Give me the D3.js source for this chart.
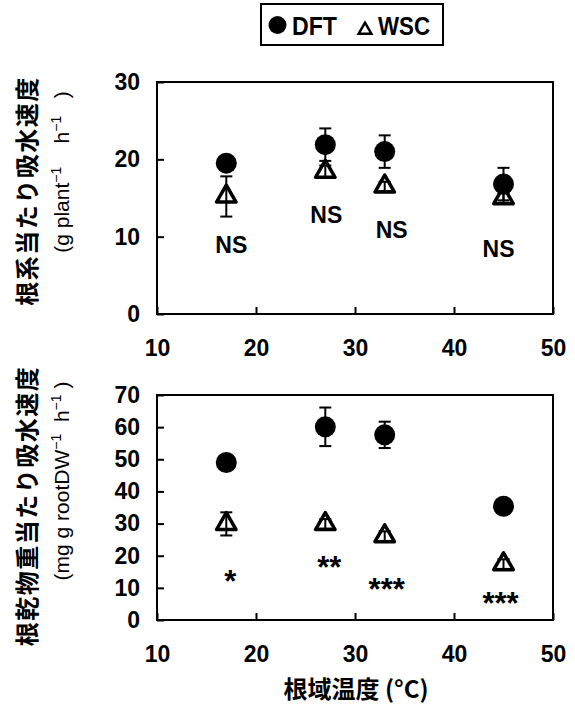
<!DOCTYPE html>
<html>
<head>
<meta charset="utf-8">
<script src="https://cdn.jsdelivr.net/npm/d3@7"></script>
<style>
  html, body { margin: 0; padding: 0; background: #fff; }
  svg { display: block; }
  text { fill: #000; }
</style>
</head>
<body>
<svg id="chart" width="575" height="706"></svg>
<script>
// Root-zone temperatures (°C)
const temps = [17, 27, 33, 45];

// Water uptake rate per root system (g plant-1 h-1)
const dftPlant = [19.5, 21.9, 21.0, 16.8];
const dftPlantErr = [0.8, 2.1, 2.1, 2.1];
const wscPlant = [15.2, 18.4, 16.5, 15.0];
const wscPlantErr = [2.6, 0.8, 0.6, 0.6];

// Water uptake rate per root dry weight (mg g rootDW-1 h-1)
const dftRoot = [49.0, 60.1, 57.6, 35.4];
const dftRootErr = [2.0, 6.0, 4.1, 2.0];
const wscRoot = [29.9, 29.9, 26.1, 17.4];
const wscRootErr = [3.6, 1.5, 1.5, 1.5];

// Significance labels and where they sit (data coordinates)
const sigPlant = ["NS", "NS", "NS", "NS"];
const sigPlantX = [17.5, 27.1, 33.7, 44.5];
const sigPlantY = [8.9, 12.8, 10.9, 8.5];
const sigRoot = ["*", "**", "***", "***"];
const sigRootX = [17.4, 27.4, 33.2, 44.7];
const sigRootY = [14.0, 18.4, 11.4, 7.1];

// Axis ticks
const xTicks = [10, 20, 30, 40, 50];
const yTicksPlant = [0, 10, 20, 30];
const yTicksRoot = [0, 10, 20, 30, 40, 50, 60, 70];

const svg = d3.select("#chart");
const LATIN = "'Liberation Sans', Arial, sans-serif";
const CJK = "'Noto Sans CJK JP', sans-serif";
const NB = "\u00a0";

const left = 157, right = 553;
const x = d3.scaleLinear().domain([10, 50]).range([left, right]);

const panels = [
  {
    top: 82, bottom: 314, ymax: 30, yTicks: yTicksPlant,
    dft: dftPlant, dftErr: dftPlantErr, wsc: wscPlant, wscErr: wscPlantErr,
    sig: sigPlant, sigX: sigPlantX, sigY: sigPlantY, sigStar: false,
    title: "根系当たり吸水速度", titleY: 191,
    unit: [["(g plant", false], ["−1", true], [NB + NB + NB + NB + "h", false], ["−1", true], [NB + NB + NB + ")", false]],
    unitY: 172
  },
  {
    top: 395, bottom: 620, ymax: 70, yTicks: yTicksRoot,
    dft: dftRoot, dftErr: dftRootErr, wsc: wscRoot, wscErr: wscRootErr,
    sig: sigRoot, sigX: sigRootX, sigY: sigRootY, sigStar: true,
    title: "根乾物重当たり吸水速度", titleY: 506,
    unit: [["(mg g rootDW", false], ["−1", true], [NB + NB + "h", false], ["−1", true], [NB + ")", false]],
    unitY: 481
  }
];

const tri = d3.symbol().type(d3.symbolTriangle).size(165);

panels.forEach(p => {
  const y = d3.scaleLinear().domain([0, p.ymax]).range([p.bottom, p.top]);
  const g = svg.append("g");

  // Axes with inward ticks
  const ax = g.append("g")
    .attr("transform", `translate(0,${p.bottom})`)
    .call(d3.axisBottom(x).tickValues(xTicks).tickSize(-7).tickPadding(26).tickFormat(d3.format("d")));
  const ay = g.append("g")
    .attr("transform", `translate(${left},0)`)
    .call(d3.axisLeft(y).tickValues(p.yTicks).tickSize(-7).tickPadding(17).tickFormat(d3.format("d")));
  [ax, ay].forEach(a => {
    a.select(".domain").remove();
    a.selectAll(".tick line").attr("stroke", "#000").attr("stroke-width", 2);
    a.selectAll(".tick text")
      .attr("font-family", LATIN).attr("font-size", 23).attr("font-weight", "bold").attr("fill", "#000");
  });

  // Plot frame
  g.append("rect")
    .attr("x", left).attr("y", p.top)
    .attr("width", right - left).attr("height", p.bottom - p.top)
    .attr("fill", "none").attr("stroke", "#000").attr("stroke-width", 2);

  // WSC triangles (open)
  g.selectAll(".wsc").data(temps).join("path")
    .attr("transform", (t, i) => `translate(${x(t)},${y(p.wsc[i])})`)
    .attr("d", tri)
    .attr("fill", "#fff").attr("stroke", "#000").attr("stroke-width", 3.5)
    .attr("stroke-linejoin", "round");

  // Error bars
  const bars = [];
  temps.forEach((t, i) => {
    bars.push({ t, v: p.wsc[i], e: p.wscErr[i] });
    bars.push({ t, v: p.dft[i], e: p.dftErr[i] });
  });
  const eb = g.selectAll(".eb").data(bars).join("g")
    .attr("stroke", "#000").attr("stroke-width", 2);
  eb.append("line")
    .attr("x1", d => x(d.t)).attr("x2", d => x(d.t))
    .attr("y1", d => y(d.v - d.e)).attr("y2", d => y(d.v + d.e));
  eb.append("line")
    .attr("x1", d => x(d.t) - 6).attr("x2", d => x(d.t) + 6)
    .attr("y1", d => y(d.v + d.e)).attr("y2", d => y(d.v + d.e));
  eb.append("line")
    .attr("x1", d => x(d.t) - 6).attr("x2", d => x(d.t) + 6)
    .attr("y1", d => y(d.v - d.e)).attr("y2", d => y(d.v - d.e));

  // DFT circles (filled)
  g.selectAll(".dft").data(temps).join("circle")
    .attr("cx", t => x(t)).attr("cy", (t, i) => y(p.dft[i]))
    .attr("r", 10.5).attr("fill", "#000");

  // Significance marks
  g.selectAll(".sig").data(p.sig).join("text")
    .attr("x", (s, i) => x(p.sigX[i]))
    .attr("y", (s, i) => y(p.sigY[i]))
    .attr("dy", p.sigStar ? "0.55em" : "0.36em")
    .attr("text-anchor", "middle")
    .attr("font-family", LATIN)
    .attr("font-weight", "bold")
    .attr("font-size", p.sigStar ? 31 : 23)
    .text(s => s);

  // Rotated y-axis title (two lines)
  g.append("text")
    .attr("transform", `translate(27,${p.titleY}) rotate(-90)`)
    .attr("text-anchor", "middle").attr("dy", "0.36em")
    .attr("font-family", CJK).attr("font-weight", "bold").attr("font-size", 24)
    .attr("letter-spacing", 1.5)
    .text(p.title);
  const t2 = g.append("text")
    .attr("transform", `translate(61,${p.unitY}) rotate(-90)`)
    .attr("text-anchor", "middle").attr("dy", "0.36em")
    .attr("font-family", LATIN).attr("font-size", 21);
  p.unit.forEach(([s, sup]) => {
    const ts = t2.append("tspan").text(s);
    if (sup) ts.attr("font-size", 14).attr("baseline-shift", "super");
  });
});

// x-axis title
svg.append("text")
  .attr("x", 356).attr("y", 698)
  .attr("text-anchor", "middle")
  .attr("font-family", CJK).attr("font-weight", "bold").attr("font-size", 24)
  .text("根域温度 (°C)");

// Legend
const lg = svg.append("g");
lg.append("rect").attr("x", 261).attr("y", 4).attr("width", 182).attr("height", 41)
  .attr("fill", "#fff").attr("stroke", "#000").attr("stroke-width", 2);
lg.append("circle").attr("cx", 277.5).attr("cy", 25).attr("r", 9).attr("fill", "#000");
lg.append("text").attr("x", 292).attr("y", 35)
  .attr("font-family", LATIN).attr("font-weight", "bold").attr("font-size", 26)
  .attr("textLength", 45).attr("lengthAdjust", "spacingAndGlyphs")
  .text("DFT");
lg.append("path")
  .attr("transform", "translate(365,30)")
  .attr("d", d3.symbol().type(d3.symbolTriangle).size(70))
  .attr("fill", "none").attr("stroke", "#000").attr("stroke-width", 2.5);
lg.append("text").attr("x", 378).attr("y", 35)
  .attr("font-family", LATIN).attr("font-weight", "bold").attr("font-size", 26)
  .attr("textLength", 52).attr("lengthAdjust", "spacingAndGlyphs")
  .text("WSC");
</script>
</body>
</html>
